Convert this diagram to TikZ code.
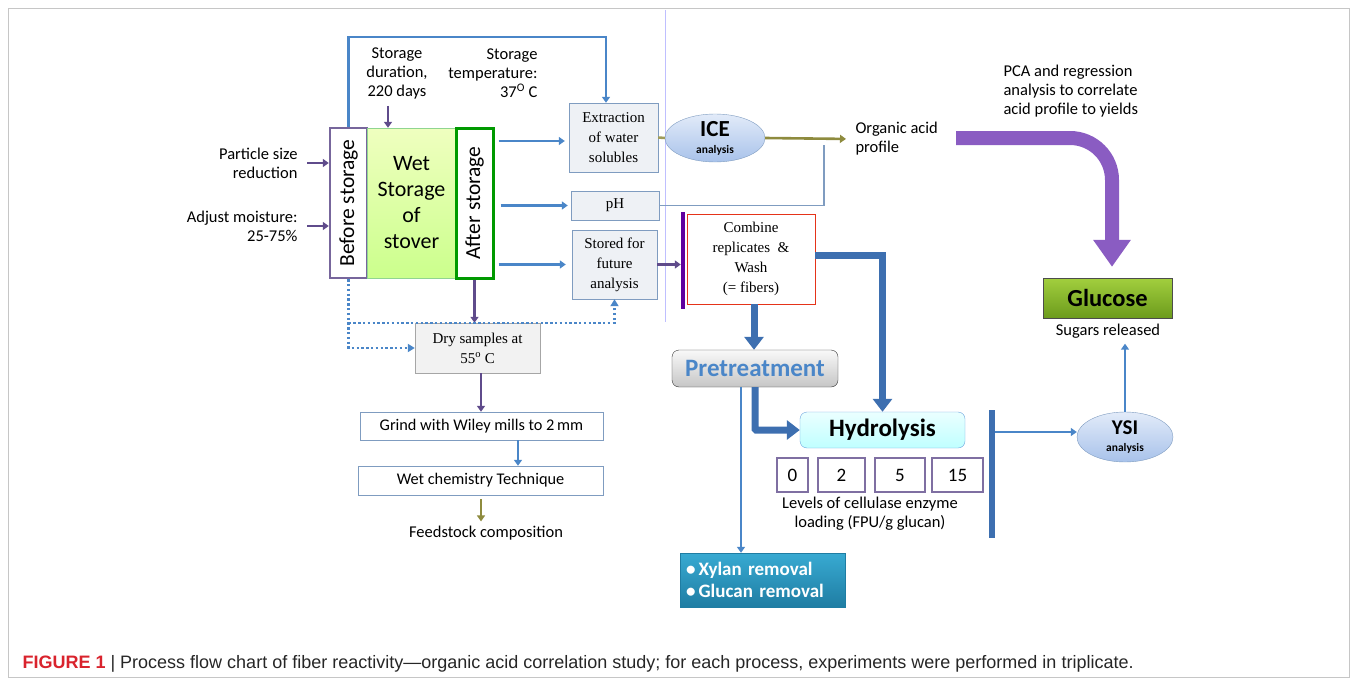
\documentclass[tikz,border=0pt]{standalone}
\usepackage{fontspec}
\setmainfont{Carlito}
\newfontfamily\tnr{Liberation Serif}
\newfontfamily\hel{Liberation Sans}
\usetikzlibrary{arrows.meta,shapes.geometric}
\definecolor{violetline}{HTML}{5F4B8B}
\definecolor{blueline}{HTML}{4A86C8}
\definecolor{oliveline}{HTML}{8E8B3E}
\definecolor{boxfill}{HTML}{EEF1F5}
\definecolor{boxline}{HTML}{7F9CC0}
\definecolor{thickblue}{HTML}{3D6FB0}
\definecolor{capred}{HTML}{D9232D}
\definecolor{bigpurple}{HTML}{8A5CC2}
\definecolor{tealtop}{HTML}{38AAD2}
\definecolor{tealbot}{HTML}{1F7DA3}
\definecolor{limetop}{HTML}{A2CF3E}
\definecolor{limebot}{HTML}{6C9B1C}
\definecolor{ovaltop}{HTML}{E2EBF9}
\definecolor{ovalbot}{HTML}{A8C2EA}
\begin{document}
\begin{tikzpicture}[x=1pt,y=-1pt, every node/.style={font=\fontsize{16.5}{19}\selectfont},
  box/.style={draw=boxline,fill=boxfill,align=center,inner sep=0pt,font=\tnr\fontsize{15}{20}\selectfont},
  plain/.style={draw=boxline,fill=white,inner sep=0pt,font=\fontsize{16.3}{19}\selectfont},
  lvl/.style={draw=violetline!80,line width=2pt,inner sep=0pt,minimum height=34pt,font=\fontsize{19}{20}\selectfont},
  oval/.style={ellipse,draw=boxline,top color=ovaltop,bottom color=ovalbot,inner sep=0pt,align=center},
  parr/.style={violetline,line width=2.6pt,-{Triangle[length=6pt,width=8pt]}},
  barr/.style={blueline,line width=2.4pt,-{Triangle[length=6pt,width=8pt]}},
  oarr/.style={oliveline,line width=2.6pt,-{Triangle[length=6pt,width=8pt]}},
  dots/.style={blueline,line width=2.6pt,dash pattern=on 2.4pt off 2.4pt},
  fat/.style={thickblue,line width=7pt,-{Triangle[length=13pt,width=19pt]}}]
\useasboundingbox (0,0) rectangle (1357,685);
\draw[gray!45,line width=0.8pt] (8,8) rectangle (1349,677);
% storage block
\node[draw=violetline!85,line width=2.4pt,fill=white,minimum width=37pt,minimum height=150pt] (before) at (348.5,203) {};
\node[rotate=90,font=\fontsize{21.5}{22}\selectfont] (beforetxt) at (before) {Before storage};
\node[draw=green!45!gray!60,top color=green!25!yellow!25,bottom color=green!45!yellow!45,minimum width=89pt,minimum height=150pt,align=center,font=\fontsize{22}{26}\selectfont] (wet) at (411.5,203) {Wet\\Storage\\of\\stover};
\node[draw=green!60!black,line width=3pt,fill=white,minimum width=37pt,minimum height=150pt] (after) at (474.5,203) {};
\node[rotate=90,font=\fontsize{21.5}{22}\selectfont] (aftertxt) at (after) {After storage};
\node[align=center] (dur) at (397,73) {Storage\\duration,\\220 days};
\node[align=right,anchor=east] (temp) at (541,73) {Storage\\temperature:\\37\textsuperscript{O} C};
\node[align=right,anchor=east] (particle) at (301,163) {Particle size\\reduction};
\node[align=right,anchor=east] (moist) at (301,226) {Adjust moisture:\\25-75\%};
% analyses
\node[box,minimum width=89pt,minimum height=69pt] (extract) at (613.5,137.5) {Extraction\\of water\\solubles};
\node[box,minimum width=88pt,minimum height=29pt] (ph) at (615,205.5) {pH};
\node[box,minimum width=85pt,minimum height=69pt] (stored) at (614.5,264.5) {Stored for\\future\\analysis};
\draw[blue!25,line width=0.6pt] (665,10) -- (665,322);
\node[box,fill=gray!10,draw=gray!70,minimum width=125pt,minimum height=50pt] (dry) at (477.5,348) {Dry samples at\\55\textsuperscript{o} C};
\node[plain,minimum width=243pt,minimum height=28pt] (grind) at (481.5,426) {Grind with Wiley mills to 2\,mm};
\node[plain,minimum width=245pt,minimum height=29pt] (wetchem) at (480.5,480.5) {Wet chemistry Technique};
\node (feed) at (486,533) {Feedstock composition};
\node[oval,minimum width=100pt,minimum height=48pt] (ice) at (715,138) {\fontsize{23}{23}\selectfont\bfseries ICE\\[-2pt]\fontsize{11.5}{12}\selectfont\bfseries analysis};
\node[align=left,anchor=west] (acid) at (852,139) {Organic acid\\profile};
\coordinate (phend) at (824,145);
\coordinate (pcastart) at (956,138);
\node[align=left,anchor=west] (pca) at (1000,91) {PCA and regression\\analysis to correlate\\acid profile to yields};
% fibers and hydrolysis
\node[draw=red!60!brown,fill=white,minimum width=128pt,minimum height=90pt,align=center,font=\tnr\fontsize{15}{20}\selectfont] (combine) at (751,259) {Combine\\replicates\ \ \&\\Wash\\(= fibers)};
\node[fill=violet!75!blue,minimum width=4pt,minimum height=97pt,inner sep=0pt] (cbar) at (683,260.5) {};
\node[draw=gray!40!black,rounded corners=7pt,top color=gray!5,bottom color=gray!45,minimum width=166pt,minimum height=37pt,text=blueline,font=\fontsize{25}{26}\selectfont\bfseries] (pretreat) at (755,368.5) {Pretreatment};
\node[draw=cyan!60!blue!60,rounded corners=7pt,top color=cyan!8,bottom color=cyan!25,minimum width=165pt,minimum height=36pt,font=\fontsize{25}{26}\selectfont\bfseries] (hydro) at (882.5,430) {Hydrolysis};
\node[lvl,minimum width=31pt] (l0) at (792.5,475) {0};
\node[lvl,minimum width=47pt] (l2) at (841.5,475) {2};
\node[lvl,minimum width=50pt] (l5) at (900,475) {5};
\node[lvl,minimum width=51pt] (l15) at (957.5,475) {15};
\node[align=center] (levels) at (870,514) {Levels of cellulase enzyme\\loading (FPU/g glucan)};
\node[draw=tealbot,top color=tealtop,bottom color=tealbot,minimum width=165pt,minimum height=54pt,text width=153pt,align=left,text=white,inner sep=0pt,font=\fontsize{19}{22}\selectfont\bfseries] (xylan) at (762.5,580) {\textbullet\,Xylan removal\\\textbullet\,Glucan removal};
\node[fill=thickblue,minimum width=6pt,minimum height=128pt,inner sep=0pt] (hbar) at (992,474) {};
\node[oval,minimum width=96pt,minimum height=50pt] (ysi) at (1125,437) {\fontsize{21}{21}\selectfont\bfseries YSI\\[-2pt]\fontsize{11.5}{12}\selectfont\bfseries analysis};
\node[draw=black!70,top color=limetop,bottom color=limebot,minimum width=129pt,minimum height=40pt,font=\fontsize{24.5}{25}\selectfont\bfseries] (glucose) at (1107.5,298) {Glucose};
\node (sugars) at (1108,331) {Sugars released};
% connectors
\draw[barr] (before.north) -- (before.north |- 0,37) -| ([xshift=-7.5pt]extract.north);
\draw[parr] ([xshift=-23.5pt,yshift=22pt]wet.north) -- ([xshift=-23.5pt]wet.north);
\draw[parr,shorten <=6pt] (particle.east) -- (before.west |- particle.east);
\draw[parr,shorten <=6pt] (moist.east) -- (before.west |- moist.east);
\draw[barr,shorten <=4pt,shorten >=4pt] (after.east |- 0,141) -- (extract.west |- 0,141);
\draw[barr,shorten <=6pt,shorten >=3pt] (after.east |- ph.west) -- (ph.west);
\draw[barr,shorten <=4pt,shorten >=6pt] (after.east |- stored.west) -- (stored.west);
\draw[parr] (after.south) -- (after.south |- dry.north);
\draw[dots,-{Triangle[length=7pt,width=8pt]}] (before.south) |- (dry.west);
\draw[dots,-{Triangle[length=7pt,width=8pt]}] (before.south |- dry.north) -| (stored.south);
\draw[parr] (dry.south -| 481,0) -- (grind.north -| 481,0);
\draw[barr] (grind.south -| 518,0) -- (wetchem.north -| 518,0);
\draw[oarr,shorten <=4pt,shorten >=1pt] (wetchem.south -| 481,0) -- (feed.north -| 481,0);
\draw[oliveline!85,line width=2.6pt] (extract.east) -- (ice.west);
\draw[oarr,shorten >=6pt] (ice.east) -- (acid.west);
\draw[boxline,line width=1.3pt] (ph.east) -| (phend);
\draw[parr] (stored.east) -- (cbar.west |- stored.east);
\draw[fat] (combine.south -| 754,0) -- (pretreat.north -| 754,0);
\draw[fat] ([yshift=4pt]combine.east) -| (hydro.north);
\draw[fat,rounded corners=1pt] (pretreat.south) |- (hydro.west);
\draw[barr,line width=1.6pt] ([xshift=-14pt]pretreat.south) -- ([xshift=-14pt]pretreat.south |- xylan.north);
\draw[barr] (hbar.east |- 0,432) -- (ysi.west |- 0,432);
\draw[barr,shorten >=2pt] (ysi.north) -- (ysi.north |- sugars.south);
\draw[bigpurple,line width=14pt,rounded corners=42pt,shorten >=11pt,-{Triangle[length=27pt,width=36pt]}] (pcastart) -| ([xshift=4.5pt]glucose.north);
% caption
\node[anchor=west,font=\hel\fontsize{18}{20}\selectfont,text=black!85] (caption) at (19,664) {\textcolor{capred}{\bfseries FIGURE 1} | Process flow chart of fiber reactivity—organic acid correlation study; for each process, experiments were performed in triplicate.};
\end{tikzpicture}
\end{document}
